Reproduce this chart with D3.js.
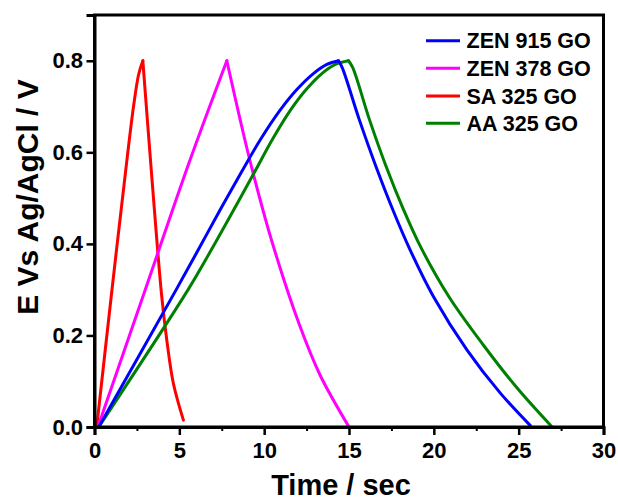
<!DOCTYPE html>
<html>
<head>
<meta charset="utf-8">
<script src="https://cdn.jsdelivr.net/npm/d3@7"></script>
<style>
  html, body { margin: 0; padding: 0; background: #fff; }
  svg { display: block; font-family: "Liberation Sans", Arial, Helvetica, sans-serif; font-weight: bold; }
</style>
</head>
<body>
<svg id="chart" width="618" height="500"></svg>
<script>
// ---- data ----
const seriesNames = ["ZEN 915 GO", "ZEN 378 GO", "SA 325 GO", "AA 325 GO"];
const xTicks = [0, 5, 10, 15, 20, 25, 30];
const xMinorTicks = [2.5, 7.5, 12.5, 17.5, 22.5, 27.5];
const yTicks = [0.0, 0.2, 0.4, 0.6, 0.8];

// [time (s), potential (V)]
const zen915Charge = [[0.25,0],[4.8,0.299],[6.1,0.386],[7.4,0.474],[8.68,0.558],[9.8,0.629],[10.94,0.692],[11.9,0.736],[12.9,0.772],[13.7,0.792],[14.38,0.8]];
const zen915Discharge = [[14.38,0.8],[14.6,0.785],[15.6,0.672],[16.6,0.568],[17.6,0.473],[18.6,0.387],[19.99,0.284],[21.96,0.168],[23.92,0.074],[25.69,0.003]];

const zen378Charge = [[0.2,0],[2.9,0.29],[5.63,0.583],[7.8,0.8]];
const zen378Discharge = [[7.8,0.8],[8.58,0.672],[9.27,0.566],[10.5,0.40],[12.1,0.221],[13.3,0.113],[15.0,0]];

const sa325Charge = [[0.13,0],[1.0,0.29],[1.91,0.583],[2.3,0.7],[2.6,0.77],[2.85,0.8]];
const sa325Discharge = [[2.85,0.8],[3.3,0.583],[3.95,0.29],[4.26,0.19],[4.65,0.095],[5.24,0.015]];

const aa325Charge = [[0.25,0],[5.5,0.299],[6.87,0.386],[8.2,0.474],[9.45,0.558],[10.5,0.629],[11.55,0.692],[12.45,0.736],[13.4,0.772],[14.2,0.792],[14.97,0.8]];
const aa325Discharge = [[14.97,0.8],[15.22,0.785],[16.2,0.672],[17.2,0.568],[18.2,0.476],[19.2,0.395],[20.9,0.284],[22.94,0.178],[24.91,0.085],[26.97,0]];

// ---- styles ----
const seriesColors = ["#0000ff", "#ff00ff", "#ff0000", "#008000"];
const seriesData = [
  [zen915Charge, zen915Discharge],
  [zen378Charge, zen378Discharge],
  [sa325Charge, sa325Discharge],
  [aa325Charge, aa325Discharge]
];

const svg = d3.select("#chart");
const x = d3.scaleLinear().domain([0, 30]).range([94.5, 603.5]);
const y = d3.scaleLinear().domain([0, 0.9]).range([427, 15]);

const line = d3.line().x(d => x(d[0])).y(d => y(d[1])).curve(d3.curveCatmullRom.alpha(0.5));

const drawOrder = [2, 1, 3, 0];
drawOrder.forEach(i => {
  const g = svg.append("g");
  seriesData[i].forEach(seg => {
    g.append("path")
      .attr("d", line(seg))
      .attr("fill", "none")
      .attr("stroke", seriesColors[i])
      .attr("stroke-width", 3)
      .attr("stroke-linejoin", "round")
      .attr("stroke-linecap", "round");
  });
});

// frame
svg.append("rect")
  .attr("x", x(0)).attr("y", y(0.9))
  .attr("width", x(30) - x(0)).attr("height", y(0) - y(0.9))
  .attr("fill", "none").attr("stroke", "#000").attr("stroke-width", 3);

// x axis
const xAxis = svg.append("g").attr("transform", `translate(0,${y(0)})`)
  .call(d3.axisBottom(x).tickValues(xTicks).tickFormat(d3.format("d")).tickSize(8).tickPadding(7));
xAxis.select(".domain").attr("stroke-width", 3);
xAxis.selectAll(".tick line").attr("stroke-width", 2.5);
xAxis.selectAll(".tick text").attr("font-size", 22).attr("font-weight", "bold")
  .attr("font-family", "Liberation Sans, Arial, sans-serif").attr("fill", "#000");

const xMinor = svg.append("g").attr("transform", `translate(0,${y(0)})`)
  .call(d3.axisBottom(x).tickValues(xMinorTicks).tickFormat("").tickSize(4));
xMinor.select(".domain").remove();
xMinor.selectAll(".tick line").attr("stroke-width", 2);

// y axis
const yAxis = svg.append("g").attr("transform", `translate(${x(0)},0)`)
  .call(d3.axisLeft(y).tickValues(yTicks).tickFormat(d3.format(".1f")).tickSize(8).tickPadding(3.5));
yAxis.select(".domain").attr("stroke-width", 3);
yAxis.selectAll(".tick line").attr("stroke-width", 2.5);
yAxis.selectAll(".tick text").attr("font-size", 22).attr("font-weight", "bold")
  .attr("font-family", "Liberation Sans, Arial, sans-serif").attr("fill", "#000");

// axis titles
svg.append("text")
  .attr("x", 341).attr("y", 495)
  .attr("text-anchor", "middle")
  .attr("font-size", 29)
  .text("Time / sec");

svg.append("text")
  .attr("transform", "translate(38,197) rotate(-90)")
  .attr("text-anchor", "middle")
  .attr("font-size", 30)
  .text("E Vs Ag/AgCl / V");

// legend
const legendY = [40.7, 68.3, 96, 123.3];
seriesNames.forEach((name, i) => {
  svg.append("line")
    .attr("x1", 426).attr("x2", 460)
    .attr("y1", legendY[i]).attr("y2", legendY[i])
    .attr("stroke", seriesColors[i]).attr("stroke-width", 3);
  svg.append("text")
    .attr("x", 466.5).attr("y", legendY[i] + 7.5)
    .attr("font-size", 21.5)
    .text(name);
});
</script>
</body>
</html>
